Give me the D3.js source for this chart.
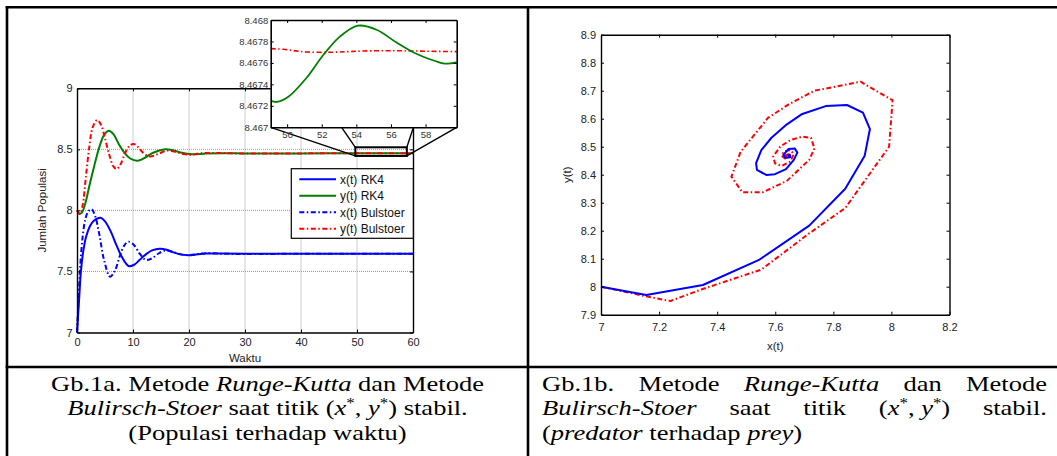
<!DOCTYPE html>
<html>
<head>
<meta charset="utf-8">
<script src="https://cdn.jsdelivr.net/npm/d3@7/dist/d3.min.js"></script>
<style>
	body { margin: 0; background: #fff; }
	svg text { font-family: "Liberation Sans", Arial, Helvetica, sans-serif; }
	.tick text { font-size: 11px; fill: #222; }
	.inset .tick text { font-size: 9.5px; fill: #333; }
	.axis path, .axis line { stroke: #000; }
	.axisLabel { font-size: 11.5px; fill: #222; }
	.legendLabel { font-size: 12px; fill: #111; }
	svg text.caption { font-family: "Liberation Serif", "Times New Roman", serif; font-size: 22px; fill: #000; }
</style>
</head>
<body>
<div id="graphic"></div>
<script>
// populasi terhadap waktu: [t, value]
const xRK4 = [[0, 7], [0.35, 7.25], [0.7, 7.5], [1.1, 7.66], [1.6, 7.78], [2.3, 7.87], [3, 7.915], [4.2, 7.94], [5, 7.91], [6, 7.83], [7, 7.72], [8, 7.62], [9.2, 7.545], [10.2, 7.555], [11.2, 7.595], [12.3, 7.64], [13.4, 7.672], [14.8, 7.686], [16, 7.678], [17, 7.66], [18.2, 7.642], [19.9, 7.633], [21.5, 7.64], [23, 7.647], [26, 7.646], [30, 7.644], [35, 7.645], [40, 7.645], [45, 7.645], [50, 7.645], [55, 7.645], [60, 7.645]];
const yRK4 = [[0, 8], [0.4, 7.975], [0.8, 7.978], [1.5, 8.06], [2.2, 8.2], [3, 8.35], [4, 8.52], [4.8, 8.615], [5.7, 8.652], [6.5, 8.625], [7.5, 8.54], [8.5, 8.47], [9.5, 8.425], [10.8, 8.407], [12, 8.428], [13.5, 8.47], [15.7, 8.5], [17, 8.494], [18.5, 8.474], [20.6, 8.46], [23, 8.466], [26, 8.469], [30, 8.467], [40, 8.467], [50, 8.4673], [60, 8.4676]];
const xBulstoer = [[0, 7], [0.3, 7.3], [0.6, 7.56], [1, 7.78], [1.5, 7.93], [2, 7.99], [2.6, 8.01], [3.2, 7.96], [4, 7.8], [4.8, 7.6], [5.9, 7.457], [6.8, 7.51], [7.6, 7.62], [8.4, 7.71], [9.2, 7.744], [10.2, 7.715], [11.2, 7.645], [12.3, 7.594], [13.3, 7.605], [14.5, 7.645], [15.8, 7.672], [17, 7.662], [18.5, 7.64], [20, 7.634], [21.5, 7.642], [23, 7.65], [26, 7.645], [30, 7.643], [40, 7.645], [50, 7.645], [60, 7.645]];
const yBulstoer = [[0, 8], [0.5, 7.97], [1, 8.04], [1.6, 8.28], [2.2, 8.52], [2.8, 8.68], [3.6, 8.74], [4.3, 8.7], [5, 8.59], [5.8, 8.45], [6.5, 8.36], [7.1, 8.339], [7.8, 8.38], [8.6, 8.47], [9.4, 8.53], [10.1, 8.544], [10.9, 8.52], [11.8, 8.472], [13, 8.442], [14.5, 8.462], [16, 8.49], [17.5, 8.48], [19, 8.462], [20.5, 8.455], [22, 8.468], [25, 8.47], [30, 8.466], [40, 8.467], [50, 8.4677], [60, 8.4677]];

// zoomed window (t 49..60)
const insetYRK4 = [[49.05, 8.467248], [49.4, 8.467236], [50.07, 8.467285], [51.1, 8.467457], [52.1, 8.467676], [53.05, 8.467845], [54.1, 8.467947], [55.2, 8.467907], [56.3, 8.467792], [57.4, 8.46769], [58.55, 8.467618], [59.1, 8.467593], [59.8, 8.467606]];
const insetYBulstoer = [[49.05, 8.467733], [49.8, 8.467727], [50.5, 8.467712], [51.1, 8.467702], [52.5, 8.467699], [53.5, 8.467705], [54.4, 8.467711], [56.3, 8.467714], [58, 8.467709], [59.8, 8.467705]];

// predator terhadap prey: [x, y]
const phaseRK4 = [[7, 8], [7.156, 7.97], [7.351, 8.006], [7.546, 8.097], [7.717, 8.218], [7.841, 8.35], [7.908, 8.468], [7.926, 8.563], [7.902, 8.622], [7.847, 8.649], [7.774, 8.645], [7.693, 8.617], [7.64, 8.58], [7.587, 8.532], [7.552, 8.488], [7.534, 8.441], [7.537, 8.417], [7.569, 8.399], [7.599, 8.402], [7.637, 8.42], [7.664, 8.453], [7.676, 8.479], [7.667, 8.494], [7.646, 8.492], [7.628, 8.471], [7.635, 8.46], [7.652, 8.463], [7.65, 8.472], [7.642, 8.468]];
const phaseBulstoer = [[7, 8], [7.168, 7.963], [7.239, 7.949], [7.345, 7.99], [7.552, 8.061], [7.711, 8.186], [7.841, 8.281], [7.992, 8.5], [8.004, 8.666], [7.894, 8.732], [7.735, 8.7], [7.646, 8.651], [7.575, 8.603], [7.481, 8.482], [7.449, 8.393], [7.487, 8.337], [7.557, 8.337], [7.64, 8.378], [7.717, 8.453], [7.735, 8.494], [7.723, 8.532], [7.693, 8.536], [7.652, 8.524], [7.617, 8.5], [7.593, 8.465], [7.599, 8.441], [7.622, 8.431], [7.652, 8.447], [7.664, 8.474], [7.652, 8.488], [7.628, 8.482], [7.622, 8.467], [7.634, 8.458], [7.648, 8.462], [7.645, 8.473], [7.636, 8.47], [7.64, 8.465], [7.644, 8.469]];

// ticks
const mainXTicks = [0, 10, 20, 30, 40, 50, 60];
const mainYTicks = [7, 7.5, 8, 8.5, 9];
const insetXTicks = [50, 52, 54, 56, 58];
const insetYTicks = [8.467, 8.4672, 8.4674, 8.4676, 8.4678, 8.468];
const phaseXTicks = [7, 7.2, 7.4, 7.6, 7.8, 8, 8.2];
const phaseYTicks = [7.9, 8, 8.1, 8.2, 8.3, 8.4, 8.5, 8.6, 8.7, 8.8, 8.9];

const legendLabels = ['x(t) RK4', 'y(t) RK4', 'x(t) Bulstoer', 'y(t) Bulstoer'];
const zoomBox = { t0: 49.7, t1: 58.9, v0: 8.446, v1: 8.517 };
const zoomFeet = [53.15, 57.3];

const seriesStyle = {
	solid: null,
	dashdot: '5,2.5,1.5,2.5'
};
const blue = '#0000ff', green = '#008000', red = '#ff0000';

let svg = d3.select('#graphic').append('svg').attr('width', 1057).attr('height', 456);

// a matlab-style boxed axes: inward ticks on every side
function drawBox(g, x, y, xTicks, yTicks, opts) {
	g.append('g')
		.attr('class', 'axis')
		.attr('transform', 'translate(0,' + y.range()[0] + ')')
		.call(d3.axisBottom(x).tickValues(xTicks).tickSizeInner(-3).tickSizeOuter(0).tickPadding(opts.xPad).tickFormat(String));
	g.append('g')
		.attr('class', 'axis')
		.attr('transform', 'translate(0,' + y.range()[1] + ')')
		.call(d3.axisTop(x).tickValues(xTicks).tickSizeInner(-3).tickSizeOuter(0).tickFormat(''));
	g.append('g')
		.attr('class', 'axis')
		.attr('transform', 'translate(' + x.range()[0] + ',0)')
		.call(d3.axisLeft(y).tickValues(yTicks).tickSizeInner(-3).tickSizeOuter(0).tickPadding(opts.yPad).tickFormat(String));
	g.append('g')
		.attr('class', 'axis')
		.attr('transform', 'translate(' + x.range()[1] + ',0)')
		.call(d3.axisRight(y).tickValues(yTicks).tickSizeInner(-3).tickSizeOuter(0).tickFormat(''));
	g.selectAll('.axis path').attr('stroke-width', opts.lw || 1.2);
	g.selectAll('.axis line').attr('stroke-width', 1);
}

function drawSeries(g, data, x, y, colour, dash, width, curve) {
	g.append('path')
		.datum(data)
		.attr('fill', 'none')
		.attr('stroke', colour)
		.attr('stroke-width', width)
		.attr('stroke-dasharray', dash)
		.attr('stroke-linejoin', 'round')
		.attr('d', d3.line().x((d) => x(d[0])).y((d) => y(d[1])).curve(curve));
}

// ---------- Gb.1a ----------
let mainG = svg.append('g');
const xMain = d3.scaleLinear().domain([0, 60]).range([77, 413]);
const yMain = d3.scaleLinear().domain([7, 9]).range([332.5, 88.3]);

// dotted grid
mainG.selectAll('line.vgrid')
	.data(mainXTicks.slice(1, -1))
	.join('line')
	.attr('x1', (d) => xMain(d)).attr('x2', (d) => xMain(d))
	.attr('y1', yMain(7)).attr('y2', yMain(9))
	.attr('stroke', '#9a9a9a').attr('stroke-dasharray', '1,1');
mainG.selectAll('line.hgrid')
	.data(mainYTicks.slice(1, -1))
	.join('line')
	.attr('x1', xMain(0)).attr('x2', xMain(60))
	.attr('y1', (d) => yMain(d)).attr('y2', (d) => yMain(d))
	.attr('stroke', '#9a9a9a').attr('stroke-dasharray', '1,1');

const smooth = d3.curveCatmullRom.alpha(0.5);
drawSeries(mainG, xRK4, xMain, yMain, blue, seriesStyle.solid, 2, smooth);
drawSeries(mainG, yRK4, xMain, yMain, green, seriesStyle.solid, 2, smooth);
drawSeries(mainG, xBulstoer, xMain, yMain, blue, seriesStyle.dashdot, 2, smooth);
drawSeries(mainG, yBulstoer, xMain, yMain, red, seriesStyle.dashdot, 2, smooth);

drawBox(mainG, xMain, yMain, mainXTicks, mainYTicks, { xPad: 6, yPad: 4.5, lw: 1.4 });

mainG.append('text')
	.attr('class', 'axisLabel')
	.attr('x', (xMain(0) + xMain(60)) / 2)
	.attr('y', 361.5)
	.attr('text-anchor', 'middle')
	.text('Waktu');
mainG.append('text')
	.attr('class', 'axisLabel')
	.attr('transform', 'translate(42,' + (yMain(7) + yMain(9)) / 2 + ') rotate(-90)')
	.attr('dy', '0.35em')
	.attr('text-anchor', 'middle')
	.text('Jumlah Populasi');

// legend
let legendG = mainG.append('g');
legendG.append('rect')
	.attr('x', 291.3).attr('y', 168.7)
	.attr('width', 122).attr('height', 69.6)
	.attr('fill', '#fff').attr('stroke', '#000').attr('stroke-width', 1.2);
const legendStyles = [[blue, seriesStyle.solid], [green, seriesStyle.solid], [blue, seriesStyle.dashdot], [red, seriesStyle.dashdot]];
let legendRows = legendG.selectAll('g.legend--item')
	.data(legendLabels)
	.join('g')
	.attr('class', 'legend--item')
	.attr('transform', (d, i) => 'translate(0,' + (179.2 + i * 16.5) + ')');
legendRows.append('line')
	.attr('x1', 299.3).attr('x2', 336)
	.attr('stroke', (d, i) => legendStyles[i][0])
	.attr('stroke-dasharray', (d, i) => legendStyles[i][1])
	.attr('stroke-width', 2);
legendRows.append('text')
	.attr('class', 'legendLabel')
	.attr('x', 340)
	.attr('dy', '0.36em')
	.text((d) => d);

// zoom rectangle + connectors + inset
const xInset = d3.scaleLinear().domain([49.05, 59.8]).range([270.7, 456.7]);
const yInset = d3.scaleLinear().domain([8.467, 8.468]).range([127.3, 20]);

let zoomG = svg.append('g');
zoomG.append('rect')
	.attr('x', xMain(zoomBox.t0)).attr('y', yMain(zoomBox.v1))
	.attr('width', xMain(zoomBox.t1) - xMain(zoomBox.t0))
	.attr('height', yMain(zoomBox.v0) - yMain(zoomBox.v1))
	.attr('fill', 'none').attr('stroke', '#000').attr('stroke-width', 2);
const connectors = [
	[xInset.domain()[0], zoomBox.t0, zoomBox.v0],
	[zoomFeet[0], zoomBox.t0, zoomBox.v1],
	[zoomFeet[1], zoomBox.t1, zoomBox.v1],
	[xInset.domain()[1], zoomBox.t1, zoomBox.v0]
];
zoomG.selectAll('line.connector')
	.data(connectors)
	.join('line')
	.attr('x1', (d) => xInset(d[0])).attr('y1', yInset(8.467))
	.attr('x2', (d) => xMain(d[1])).attr('y2', (d) => yMain(d[2]))
	.attr('stroke', '#000').attr('stroke-width', 1.4);

let insetG = svg.append('g').attr('class', 'inset');
insetG.append('rect')
	.attr('x', 270.7).attr('y', 20)
	.attr('width', 186).attr('height', 107.3)
	.attr('fill', '#fff');
drawSeries(insetG, insetYBulstoer, xInset, yInset, red, seriesStyle.dashdot, 1.6, smooth);
drawSeries(insetG, insetYRK4, xInset, yInset, green, seriesStyle.solid, 1.8, smooth);
drawBox(insetG, xInset, yInset, insetXTicks, insetYTicks, { xPad: 4, yPad: 2.5, lw: 1.6 });

// ---------- Gb.1b ----------
let phaseG = svg.append('g');
const xPhase = d3.scaleLinear().domain([7, 8.2]).range([601, 949.5]);
const yPhase = d3.scaleLinear().domain([7.9, 8.9]).range([314.7, 34.7]);

drawSeries(phaseG, phaseBulstoer, xPhase, yPhase, red, seriesStyle.dashdot, 2, d3.curveLinear);
drawSeries(phaseG, phaseRK4, xPhase, yPhase, blue, seriesStyle.solid, 2, d3.curveLinear);
drawBox(phaseG, xPhase, yPhase, phaseXTicks, phaseYTicks, { xPad: 8.5, yPad: 5, lw: 1.4 });

phaseG.append('text')
	.attr('class', 'axisLabel')
	.attr('x', (xPhase(7) + xPhase(8.2)) / 2)
	.attr('y', 349.5)
	.attr('text-anchor', 'middle')
	.text('x(t)');
phaseG.append('text')
	.attr('class', 'axisLabel')
	.attr('transform', 'translate(567,' + (yPhase(7.9) + yPhase(8.9)) / 2 + ') rotate(-90)')
	.attr('dy', '0.35em')
	.attr('text-anchor', 'middle')
	.text('y(t)');

// ---------- table lines ----------
let frame = svg.append('g').attr('stroke', '#000').attr('stroke-width', 2.6);
frame.append('line').attr('x1', 5.7).attr('x2', 1057).attr('y1', 7.3).attr('y2', 7.3);
frame.append('line').attr('x1', 7).attr('x2', 7).attr('y1', 6).attr('y2', 456);
frame.append('line').attr('x1', 528).attr('x2', 528).attr('y1', 6).attr('y2', 456);
frame.append('line').attr('x1', 5.7).attr('x2', 1057).attr('y1', 367).attr('y2', 367);

// ---------- captions ----------
// parts: [text, style] with style 0 normal, 1 italic, 'sup' superscript
// each piece sits in its own group so it can be stretched sideways like the scan
function richText(parent, parts, anchor) {
	let g = parent.append('g');
	let t = g.append('text')
		.attr('class', 'caption')
		.attr('text-anchor', anchor);
	let shift = 0;
	parts.forEach((p) => {
		let s = t.append('tspan').text(p[0]);
		if (p[1] == 1) s.attr('font-style', 'italic');
		if (p[1] == 'sup') {
			s.attr('font-size', '14px').attr('dy', -7 - shift);
			shift = -7;
		} else if (shift != 0) {
			s.attr('dy', -shift);
			shift = 0;
		}
	});
	return { g: g, width: t.node().getComputedTextLength() };
}

const mathXY = [['(', 0], ['x', 1], ['*', 'sup'], [', ', 0], ['y', 1], ['*', 'sup'], [')', 0]];
const capLeft = [
	[['Gb.1a. Metode ', 0], ['Runge-Kutta', 1], [' dan Metode', 0]],
	[['Bulirsch-Stoer', 1], [' saat titik ', 0]].concat(mathXY, [[' stabil.', 0]]),
	[['(Populasi terhadap waktu)', 0]]
];
const capRight = [
	[[['Gb.1b.', 0]], [['Metode', 0]], [['Runge-Kutta', 1]], [['dan', 0]], [['Metode', 0]]],
	[[['Bulirsch-Stoer', 1]], [['saat', 0]], [['titik', 0]], mathXY, [['stabil.', 0]]]
];
const capRightLast = [['(', 0], ['predator', 1], [' terhadap ', 0], ['prey', 1], [')', 0]];
const baselines = [390.7, 415.3, 440];

let capG = svg.append('g');
let leftItems = capLeft.map((line) => richText(capG, line, 'middle'));
const sx = 433 / leftItems[0].width;
leftItems.forEach((it, i) => it.g.attr('transform', 'translate(267.5,' + baselines[i] + ') scale(' + sx + ',1)'));

// justified lines of the right cell
const jLeft = 542, jRight = 1047;
capRight.forEach((words, i) => {
	let items = words.map((w) => richText(capG, w, 'start'));
	let widths = items.map((it) => it.width * sx);
	let gap = (jRight - jLeft - d3.sum(widths)) / (words.length - 1);
	let cx = jLeft;
	items.forEach((it, j) => {
		it.g.attr('transform', 'translate(' + cx + ',' + baselines[i] + ') scale(' + sx + ',1)');
		cx += widths[j] + gap;
	});
});
richText(capG, capRightLast, 'start').g
	.attr('transform', 'translate(' + jLeft + ',' + baselines[2] + ') scale(' + sx + ',1)');
</script>
</body>
</html>
